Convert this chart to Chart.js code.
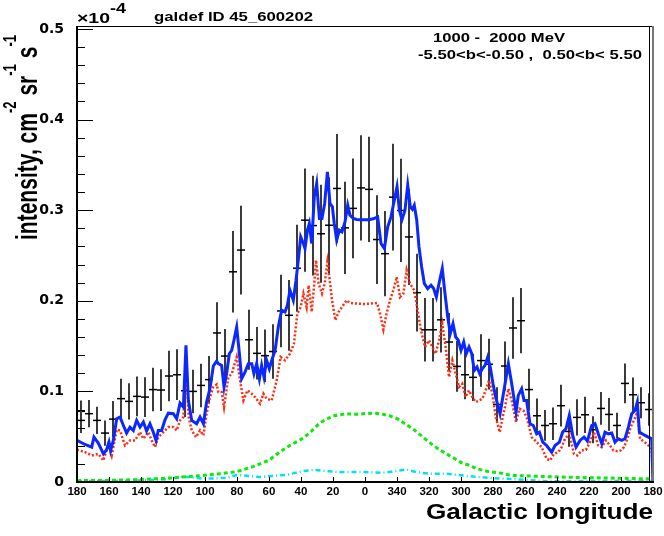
<!DOCTYPE html>
<html>
<head>
<meta charset="utf-8">
<script src="https://cdn.jsdelivr.net/npm/chart.js@4.4.1/dist/chart.umd.min.js"></script>
<style>
  html, body { margin: 0; padding: 0; background: #fff; }
  canvas { display: block; }
</style>
</head>
<body>
<canvas id="chart" width="664" height="536"></canvas>
<script>
/** datos (longitud galactica, intensidad en 1e-4) */

// puntos de datos con barras de error
const dataLon = [177.5, 177.5, 172.5, 167.5, 162.5, 157.5, 152.5, 147.5, 142.5, 137.5, 132.5, 127.5,
    122.5, 117.5, 112.5, 107.5, 102.5, 97.5, 92.5, 87.5, 82.5, 77.5, 72.5, 67.5, 62.5, 57.5, 52.5,
    47.5, 42.5, 37.5, 32.5, 27.5, 22.5, 17.5, 12.5, 7.5, 2.5, -2.5, -7.5, -12.5, -17.5, -22.5,
    -27.5, -32.5, -37.5, -42.5, -47.5, -52.5, -57.5, -62.5, -67.5, -72.5, -77.5, -82.5, -87.5,
    -92.5, -97.5, -102.5, -107.5, -112.5, -117.5, -122.5, -127.5, -132.5, -137.5, -142.5, -147.5,
    -152.5, -157.5, -162.5, -167.5, -172.5, -177.5];
const dataVal = [0.078, 0.068, 0.0754, 0.068, 0.054, 0.0694, 0.092, 0.089, 0.0945, 0.0937, 0.102, 0.1015,
    0.117, 0.1184, 0.1007, 0.100, 0.1066, 0.113, 0.1645, 0.139, 0.232, 0.256, 0.157, 0.142, 0.1394, 0.144, 0.1888,
    0.184, 0.236, 0.289, 0.283, 0.274, 0.2834, 0.324, 0.2805, 0.302, 0.3246, 0.323, 0.2676, 0.252, 0.3144, 0.2997,
    0.2705, 0.209, 0.168, 0.168, 0.179, 0.1545, 0.1276, 0.1184, 0.1155, 0.134, 0.130, 0.0856, 0.128,
    0.170, 0.178, 0.102, 0.0731, 0.0624, 0.0643, 0.0842, 0.0558, 0.0713, 0.0742, 0.0577, 0.0812,
    0.0746, 0.0624, 0.1088, 0.0963, 0.0875, 0.080];
const dataErr = [0.012, 0.014, 0.015, 0.015, 0.014, 0.020, 0.022, 0.020, 0.022, 0.022, 0.024, 0.023,
    0.028, 0.028, 0.029, 0.024, 0.024, 0.026, 0.034, 0.030, 0.045, 0.049, 0.033, 0.029, 0.029, 0.030, 0.040,
    0.039, 0.048, 0.057, 0.055, 0.054, 0.053, 0.060, 0.051, 0.055, 0.058, 0.058, 0.049, 0.047, 0.059, 0.057,
    0.053, 0.043, 0.035, 0.035, 0.036, 0.032, 0.028, 0.027, 0.026, 0.029, 0.028, 0.019, 0.027,
    0.034, 0.036, 0.023, 0.019, 0.017, 0.018, 0.023, 0.017, 0.020, 0.020, 0.015, 0.018,
    0.018, 0.014, 0.022, 0.019, 0.017, 0.018];

// modelo total (azul)
const totalLon = [180, 175, 170.8, 169.4, 166.7, 163.5, 161.5, 160, 159, 157.3, 155.2, 153.1, 151, 149, 146.9,
    144.8, 142.7, 140.6, 138.5, 136.5, 134.4, 132.3, 130.6, 129.2, 127.1, 125, 122.9, 119.8, 117.7, 115.6,
    113.5, 111.9, 110.4, 108.3, 105.2, 103.1, 101, 99, 96.9, 94.8, 92.7, 91.7, 89.6, 88.1, 86.5, 84.8, 83.3,
    81.9, 80.2, 78.5, 77.1, 75, 72.9, 70.8, 69.4, 67.7, 66, 64.6, 63.1, 61.5, 59.8, 58.3, 56.2, 54.2, 52.1,
    50, 48.5, 46.9, 44.8, 43.1, 41.7, 40.2, 38.5, 37.5, 36, 34.8, 33.3, 31.7, 30.2, 28.5, 26.9, 25.2, 23.5,
    21.9, 20.4, 19.2, 17.7, 16, 14.4, 12.5, 10.8, 9.4, 7.3, 5.2, 2.1, -2.1, -5.2, -7.9, -10, -12.1, -14.2,
    -16.25, -18.3, -20, -21.5, -23.1, -25, -26.7, -28.3, -29.6, -30.8, -32.3, -33.75, -35.4, -37.1, -39.2,
    -41.25, -42.9, -44.6, -46.25, -48.3, -50, -51.7, -53.3, -55, -56.7, -58.3, -60, -61.7, -63.3, -65,
    -66.7, -68.3, -70, -71.7, -73.3, -75, -76.7, -78.3, -80, -81.7, -83.3, -84.4, -86.5, -89.6, -91.7,
    -94.4, -95.8, -97.9, -99.4, -101, -103.1, -105.2, -107.3, -109, -111.1, -113.5, -116.7, -118.75,
    -121.5, -123.5, -125.6, -127.7, -129.8, -131.9, -134.4, -136.9, -139, -141.7, -143.75, -145.8, -148,
    -150, -152.1, -154.2, -156.25, -158.3, -160.4, -162.5, -164.6, -166.7, -168.75, -170.2, -171.5, -175,
    -179.2, -180];
const totalVal = [0.0459, 0.0414, 0.0385, 0.0495, 0.0429, 0.0311, 0.0356, 0.044, 0.0348, 0.0459, 0.0698,
    0.0716, 0.0624, 0.054, 0.0606, 0.0569, 0.068, 0.0606, 0.0661, 0.0562, 0.0643, 0.055, 0.0459, 0.0569,
    0.0569, 0.0687, 0.076, 0.0753, 0.0698, 0.0871, 0.0827, 0.1508, 0.090, 0.068, 0.0643, 0.0716, 0.0643,
    0.0882, 0.103, 0.128, 0.1335, 0.1306, 0.1287, 0.1048, 0.1195, 0.1416, 0.1453, 0.1564, 0.171, 0.1416,
    0.114, 0.1213, 0.1306, 0.1306, 0.1195, 0.1306, 0.114, 0.1287, 0.1158, 0.1343, 0.125, 0.1343, 0.1453,
    0.171, 0.1895, 0.1877, 0.195, 0.2116, 0.2006, 0.2227, 0.2448, 0.2705, 0.2632, 0.2577, 0.2779, 0.2853,
    0.2632, 0.3147, 0.3295, 0.2908, 0.2908, 0.3074, 0.3423, 0.3074, 0.3037, 0.2853, 0.2669, 0.2779, 0.276,
    0.2871, 0.3055, 0.2945, 0.2908, 0.2898, 0.2895, 0.2895, 0.2905, 0.2926, 0.2632, 0.2577, 0.2816, 0.2926,
    0.311, 0.3258, 0.300, 0.2895, 0.300, 0.3276, 0.3037, 0.301, 0.3055, 0.2895, 0.2595, 0.2374, 0.219,
    0.2135, 0.2171, 0.2135, 0.2042, 0.219, 0.2356, 0.208, 0.1821, 0.1638, 0.1748, 0.160, 0.1564, 0.1453,
    0.1545, 0.1416, 0.149, 0.1416, 0.1232, 0.1269, 0.1195, 0.125, 0.1287, 0.1379, 0.1269, 0.1085, 0.0937,
    0.0827, 0.0753, 0.0975, 0.1306, 0.1085, 0.0771, 0.0956, 0.103, 0.090, 0.090, 0.0643, 0.0624, 0.0532,
    0.055, 0.044, 0.0403, 0.033, 0.0403, 0.044, 0.055, 0.0587, 0.0735, 0.0514, 0.0385, 0.0459, 0.0495,
    0.0451, 0.0624, 0.0643, 0.0532, 0.0422, 0.055, 0.0532, 0.054, 0.044, 0.0477, 0.0459, 0.0477, 0.0606,
    0.0753, 0.079, 0.0882, 0.055, 0.0514, 0.0477, 0];

// pi0 (rojo punteado)
const pionLon = [180, 175, 170.8, 166.7, 163.5, 160.4, 158.3, 155.2, 153.1, 150, 146.9, 143.75, 140.6, 138.5,
    135.4, 133.3, 131.25, 129.2, 126, 122.9, 119.8, 117.7, 115.6, 113.5, 111.9, 110.2, 108.3, 105.6, 103.1,
    101, 99, 96.9, 94.8, 92.7, 91.7, 89.6, 88.1, 85.4, 83.3, 80.2, 78.1, 76, 73.5, 70.8, 68.75, 65.6, 63.5,
    61.5, 58.3, 55.2, 52.7, 50, 46.9, 44.4, 42.3, 40.2, 38.5, 36.5, 35.2, 33.3, 31.9, 30.6, 29, 26.9, 25.2,
    23.5, 22.3, 20.6, 18.5, 16.5, 14.4, 11.5, 9.4, 5.2, 0, -7.5, -9.4, -11.5, -13.5, -15.6, -17.7, -19.8,
    -21.9, -24, -26, -28.1, -30.8, -32.9, -35, -37.5, -40, -42.1, -44.2, -46.25, -48.3, -50.4, -52.5,
    -54.6, -56.7, -58.75, -60.8, -62.9, -65, -67.1, -69.2, -71.25, -73.3, -75.4, -77.5, -79.6, -81.7,
    -84.2, -86.5, -87.5, -89.6, -91.7, -94.4, -96.5, -99, -101, -104.2, -107.3, -110.4, -113.5, -115.6,
    -118.1, -120.8, -122.9, -125, -127.7, -130.6, -132.7, -135.4, -138.1, -140.6, -143.1, -145.8, -147.9,
    -150.6, -153.1, -155.2, -157.7, -159.8, -161.9, -164, -166, -168.1, -170.2, -171.9, -176, -179.2, -180];
const pionVal = [0.0356, 0.033, 0.0293, 0.031, 0.0238, 0.0422, 0.0293, 0.0577, 0.0569, 0.0403, 0.0459,
    0.0459, 0.055, 0.0477, 0.055, 0.0459, 0.0385, 0.0495, 0.055, 0.0606, 0.0606, 0.0569, 0.068, 0.0716,
    0.1306, 0.0716, 0.0569, 0.0495, 0.0569, 0.0514, 0.0753, 0.0937, 0.1048, 0.1077, 0.0992, 0.0992, 0.0827,
    0.1158, 0.1195, 0.1379, 0.1122, 0.090, 0.1011, 0.0975, 0.0937, 0.0864, 0.0975, 0.0919, 0.090, 0.1122,
    0.1379, 0.1343, 0.1416, 0.1527, 0.1859, 0.1931, 0.208, 0.1931, 0.2171, 0.1877, 0.2153, 0.2448, 0.219,
    0.208, 0.219, 0.2429, 0.2263, 0.2006, 0.1785, 0.1877, 0.1931, 0.2006, 0.1976, 0.1969, 0.1965, 0.1976,
    0.1859, 0.1682, 0.1859, 0.2006, 0.2116, 0.2263, 0.2042, 0.208, 0.2337, 0.219, 0.2116, 0.1895, 0.1674,
    0.149, 0.1564, 0.149, 0.1416, 0.1564, 0.1748, 0.149, 0.1158, 0.1343, 0.1195, 0.1048, 0.1085, 0.0937,
    0.1011, 0.0937, 0.0882, 0.090, 0.0919, 0.1011, 0.1122, 0.0975, 0.0716, 0.055, 0.0753, 0.0827, 0.103,
    0.090, 0.0661, 0.0809, 0.079, 0.0716, 0.0495, 0.044, 0.0385, 0.0256, 0.0238, 0.0311, 0.033, 0.0385,
    0.0477, 0.0532, 0.0311, 0.0293, 0.0348, 0.0356, 0.044, 0.055, 0.0403, 0.0385, 0.0459, 0.0403, 0.0348,
    0.034, 0.0348, 0.0385, 0.0477, 0.0606, 0.068, 0.0771, 0.0477, 0.0422, 0.0367, 0];

// inverso Compton (verde)
const icLon = [180, 160, 140, 120, 100, 90, 80, 70, 60, 53, 47, 40, 35, 28, 20, 12, 5, 0, -6, -10, -15, -20,
    -25, -30, -35, -40, -45, -50, -55, -60, -65, -70, -77, -85, -91, -100, -112, -132, -153, -178, -180];
const icVal = [0.0015, 0.0018, 0.0027, 0.0046, 0.0075, 0.0092, 0.0115, 0.017, 0.024, 0.0335, 0.0403, 0.047,
    0.0535, 0.0655, 0.073, 0.0752, 0.0748, 0.0755, 0.076, 0.0752, 0.0733, 0.070, 0.0643, 0.0585, 0.0514,
    0.044, 0.0375, 0.032, 0.027, 0.0215, 0.0185, 0.0146, 0.0115, 0.0098, 0.0074, 0.0068, 0.006, 0.005,
    0.0043, 0.0035, 0.0035];

// bremsstrahlung (cian)
const bremLon = [180, 150, 125, 113.5, 101, 86.5, 80, 65.6, 49, 38.5, 32.3, 24, 13.5, 0, -11.5, -18.75, -26,
    -32.3, -40.6, -51, -59.4, -67.7, -80.2, -94.8, -115.6, -136.5, -157, -180];
const bremVal = [0.001, 0.0012, 0.003, 0.006, 0.0035, 0.0046, 0.0078, 0.0055, 0.008, 0.012, 0.0134, 0.012,
    0.0109, 0.0109, 0.0102, 0.012, 0.0138, 0.0109, 0.009, 0.009, 0.0075, 0.006, 0.0043, 0.0029, 0.0007,
    0.001, 0.0012, 0.0012];

const xTicks = [];
for (let v = -180; v <= 180; v += 20) xTicks.push(v);
const yTicks = [0, 0.1, 0.2, 0.3, 0.4, 0.5];

const toXY = (xs, ys) => xs.map((x, i) => ({ x: x, y: ys[i] }));

/** dibuja texto ajustado a un ancho dado */
function fitText(ctx, text, x, y, size, width, align) {
    ctx.font = 'bold ' + size + 'px "Liberation Sans", Arial, sans-serif';
    const w = ctx.measureText(text).width;
    ctx.save();
    ctx.translate(x, y);
    ctx.scale(width / w, 1);
    ctx.textAlign = align || 'left';
    ctx.textBaseline = 'alphabetic';
    ctx.fillStyle = '#000';
    ctx.fillText(text, 0, 0);
    ctx.restore();
}

// barras de error de los datos
const errorBars = {
    id: 'errorBars',
    beforeDatasetsDraw(chart) {
        const { ctx, chartArea, scales: { x, y } } = chart;
        ctx.save();
        ctx.beginPath();
        ctx.rect(chartArea.left, chartArea.top, chartArea.right - chartArea.left, chartArea.bottom - chartArea.top);
        ctx.clip();
        for (let i = 0; i < dataLon.length; i++) {
            const px = x.getPixelForValue(dataLon[i]);
            ctx.strokeStyle = '#3a3a3a';
            ctx.lineWidth = 2;
            ctx.beginPath();
            ctx.moveTo(px, y.getPixelForValue(dataVal[i] - dataErr[i]));
            ctx.lineTo(px, y.getPixelForValue(dataVal[i] + dataErr[i]));
            ctx.stroke();
            const py = y.getPixelForValue(dataVal[i]);
            ctx.strokeStyle = '#000';
            ctx.lineWidth = 1.5;
            ctx.beginPath();
            ctx.moveTo(x.getPixelForValue(dataLon[i] + 2.5), py);
            ctx.lineTo(x.getPixelForValue(dataLon[i] - 2.5), py);
            ctx.stroke();
        }
        ctx.restore();
    }
};

// marco, marcas y textos estilo ROOT
const decor = {
    id: 'decor',
    afterDraw(chart) {
        const { ctx, chartArea: a, scales: { x, y } } = chart;
        ctx.save();
        ctx.strokeStyle = '#000';
        // marcas del eje y
        ctx.lineWidth = 1;
        for (let v = 0; v <= 0.5001; v += 0.02) {
            const py = Math.round(y.getPixelForValue(v)) + 0.5;
            const major = Math.abs(v * 10 - Math.round(v * 10)) < 1e-6;
            ctx.beginPath();
            ctx.moveTo(a.left, py);
            ctx.lineTo(a.left + (major ? 16 : 8), py);
            ctx.stroke();
        }
        // marcas del eje x
        xTicks.forEach(v => {
            const px = Math.round(x.getPixelForValue(v)) + 0.5;
            ctx.beginPath();
            ctx.moveTo(px, a.bottom);
            ctx.lineTo(px, a.bottom - 5);
            ctx.stroke();
        });
        // marco
        ctx.lineWidth = 1;
        ctx.beginPath();
        ctx.moveTo(a.left, a.top + 0.5);
        ctx.lineTo(a.right, a.top + 0.5);
        ctx.moveTo(a.right - 3.5, a.top);
        ctx.lineTo(a.right - 3.5, a.bottom);
        ctx.stroke();
        ctx.strokeStyle = '#777';
        ctx.lineWidth = 2;
        ctx.beginPath();
        ctx.moveTo(a.right, a.top);
        ctx.lineTo(a.right, a.bottom);
        ctx.stroke();
        ctx.strokeStyle = '#000';
        ctx.lineWidth = 2;
        ctx.beginPath();
        ctx.moveTo(a.left, a.top);
        ctx.lineTo(a.left, a.bottom);
        ctx.lineTo(a.right + 1, a.bottom);
        ctx.stroke();

        // textos
        fitText(ctx, 'galdef ID 45_600202', 154, 20.5, 13, 159);
        fitText(ctx, '\u00d710', 77, 22.5, 14, 33);
        fitText(ctx, '-4', 110, 12.5, 14, 16);
        fitText(ctx, '1000 -  2000 MeV', 433, 41.5, 12, 132);
        fitText(ctx, '-5.50<b<-0.50 ,  0.50<b< 5.50', 418, 59, 12.5, 224);
        fitText(ctx, 'Galactic longitude', 426, 519, 22, 227);

        // titulo del eje y con superindices
        const parts = [['intensity, cm', 0], ['-2', 1], [' sr', 0], ['-1', 1], [' s', 0], ['-1', 1]];
        const fMain = 'bold 29px "Liberation Sans", Arial, sans-serif';
        const fSup = 'bold 18px "Liberation Sans", Arial, sans-serif';
        let total = 0;
        parts.forEach(p => { ctx.font = p[1] ? fSup : fMain; total += ctx.measureText(p[0]).width; });
        ctx.translate(37, 240);
        ctx.rotate(-Math.PI / 2);
        ctx.scale(205 / total, 1);
        ctx.fillStyle = '#000';
        ctx.textAlign = 'left';
        let cx = 0;
        parts.forEach(p => {
            ctx.font = p[1] ? fSup : fMain;
            ctx.fillText(p[0], cx, p[1] ? -21 : 0);
            cx += ctx.measureText(p[0]).width;
        });
        ctx.restore();
    }
};

const ctx = document.getElementById('chart').getContext('2d');

const myChart = new Chart(ctx, {
    type: 'scatter',
    data: {
        datasets: [
            {
                label: 'total',
                data: toXY(totalLon, totalVal),
                showLine: true,
                borderColor: '#0a28ff',
                borderWidth: 3,
                pointRadius: 0,
                tension: 0
            },
            {
                label: 'pi0',
                data: toXY(pionLon, pionVal),
                showLine: true,
                borderColor: '#ff2a10',
                borderWidth: 2.5,
                borderDash: [2, 2],
                pointRadius: 0,
                tension: 0
            },
            {
                label: 'IC',
                data: toXY(icLon, icVal),
                showLine: true,
                borderColor: '#10e810',
                borderWidth: 3,
                borderDash: [4, 3],
                pointRadius: 0,
                tension: 0
            },
            {
                label: 'bremss',
                data: toXY(bremLon, bremVal),
                showLine: true,
                borderColor: '#00e0f0',
                borderWidth: 2.5,
                borderDash: [5, 3, 1, 3],
                pointRadius: 0,
                tension: 0
            }
        ]
    },
    options: {
        responsive: false,
        animation: false,
        layout: { padding: { top: 26, right: 11, left: 0, bottom: 0 } },
        plugins: {
            legend: { display: false },
            tooltip: { enabled: false }
        },
        scales: {
            x: {
                type: 'linear',
                min: -180,
                max: 180,
                reverse: true,
                afterBuildTicks: s => { s.ticks = xTicks.map(v => ({ value: v })); },
                afterFit: s => { s.height = 54; },
                grid: { display: false },
                border: { display: false },
                ticks: {
                    autoSkip: false,
                    maxRotation: 0,
                    padding: -5,
                    color: '#000',
                    font: { family: '"Liberation Sans", Arial, sans-serif', weight: 'bold', size: 11.5 },
                    callback: v => String(v < 0 ? v + 360 : v)
                }
            },
            y: {
                min: 0,
                max: 0.5033,
                afterBuildTicks: s => { s.ticks = yTicks.map(v => ({ value: v })); },
                afterFit: s => { s.width = 77; },
                grid: { display: false },
                border: { display: false },
                ticks: {
                    padding: 5,
                    color: '#000',
                    font: { family: '"DejaVu Sans", sans-serif', weight: 'bold', size: 14 },
                    callback: v => v === 0 ? '0' : v.toFixed(1)
                }
            }
        }
    },
    plugins: [errorBars, decor]
});
</script>
</body>
</html>
